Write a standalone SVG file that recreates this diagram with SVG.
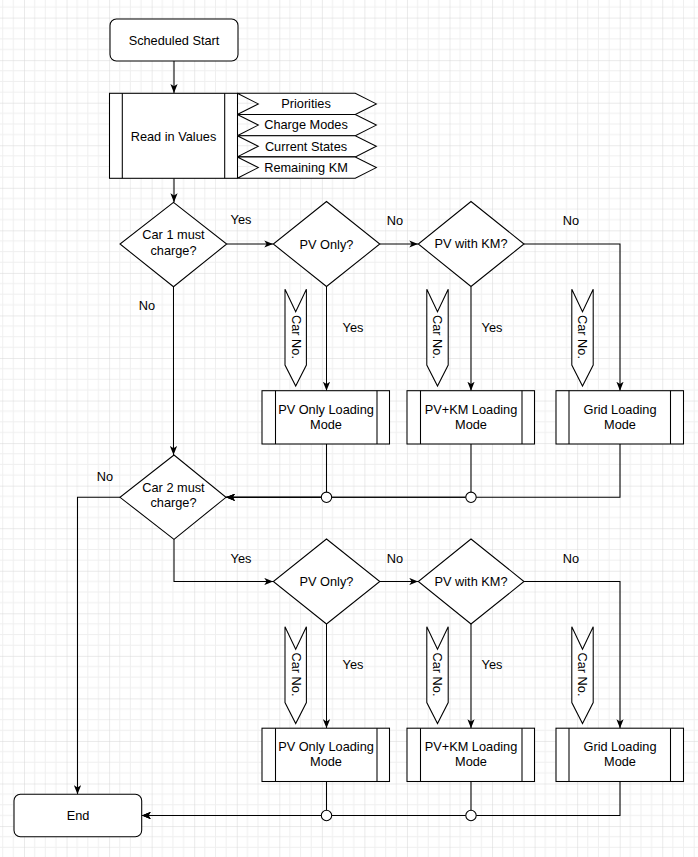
<svg xmlns="http://www.w3.org/2000/svg" width="698" height="857" viewBox="0 0 698 857">
<style>
.t{font-family:"Liberation Sans",Arial,Helvetica,sans-serif;font-size:12.76px;fill:#000;text-anchor:middle}
.s{fill:#fff;stroke:#000;stroke-width:1.06}
.l{fill:none;stroke:#000;stroke-width:1.06}
.a{fill:none;stroke:#000;stroke-width:1.06;marker-end:url(#arr)}
</style>
<defs>
<pattern id="grid" x="24" y="17.6" width="42.55" height="42.55" patternUnits="userSpaceOnUse">
<path d="M10.64 0V42.55M21.28 0V42.55M31.91 0V42.55M0 10.64H42.55M0 21.28H42.55M0 31.91H42.55" stroke="#efefef" stroke-width="1" fill="none"/>
<path d="M0 0V42.55M0 0H42.55" stroke="#d6d6d6" stroke-width="1" fill="none"/>
</pattern>
<marker id="arr" viewBox="0 0 10 8" refX="10" refY="4" markerWidth="9" markerHeight="7.2" markerUnits="userSpaceOnUse" orient="auto">
<path d="M0 0L10 4L0 8L2.5 4z" fill="#000"/>
</marker>
<polygon id="tag" points="0,0 118,0 139,10.6 118,21.2 0,21.2 21,10.6"/>
<polygon id="carno" points="0,0 10.7,22.4 21.4,0 21.4,75.7 10.7,96.7 0,75.7"/>
</defs>
<rect width="698" height="857" fill="#fff"/>
<rect width="698" height="857" fill="url(#grid)"/>

<g id="connectors">
<path class="a" d="M174 61V93"/>
<path class="a" d="M174 178.3V202.3"/>
<path class="a" d="M226.7 244H273.3"/>
<path class="a" d="M379.8 244H418.3"/>
<path class="a" d="M524 244H620V390.7"/>
<path class="a" d="M326.5 286.5V390.7"/>
<path class="a" d="M471 286.5V390.7"/>
<path class="a" d="M173.5 286.7V455"/>
<path class="a" d="M326.5 444V497.3H226"/>
<path class="a" d="M471 444V497.3H226"/>
<path class="a" d="M620 444V497.3H226"/>
<path class="a" d="M120 497.3H77.5V794.3"/>
<path class="a" d="M174 539.3V581.5H273.3"/>
<path class="a" d="M379.8 581.5H418.3"/>
<path class="a" d="M524 581.5H620V728.2"/>
<path class="a" d="M326.5 624V728.2"/>
<path class="a" d="M471 624V728.2"/>
<path class="a" d="M326.5 781.5V815.5H141.7"/>
<path class="a" d="M471 781.5V815.5H141.7"/>
<path class="a" d="M620 781.5V815.5H141.7"/>
<circle class="s" cx="326.5" cy="497.3" r="5.2"/>
<circle class="s" cx="471" cy="497.3" r="5.2"/>
<circle class="s" cx="326.5" cy="815.5" r="5.2"/>
<circle class="s" cx="471" cy="815.5" r="5.2"/>
<text class="t" x="241" y="223.5">Yes</text>
<text class="t" x="395" y="224.5">No</text>
<text class="t" x="571" y="224.5">No</text>
<text class="t" x="147" y="309.5">No</text>
<text class="t" x="353" y="331.5">Yes</text>
<text class="t" x="492" y="331.5">Yes</text>
<text class="t" x="105" y="480.5">No</text>
<text class="t" x="241" y="562.5">Yes</text>
<text class="t" x="395" y="562.5">No</text>
<text class="t" x="571" y="562.5">No</text>
<text class="t" x="353" y="668.5">Yes</text>
<text class="t" x="492" y="668.5">Yes</text>
</g>

<g id="start">
<rect class="s" x="110" y="19" width="128" height="42" rx="6.4"/>
<text class="t" x="174" y="44.5">Scheduled Start</text>
</g>

<g id="read">
<rect class="s" x="109.5" y="93.3" width="128" height="85"/>
<path class="l" d="M122.3 93.3V178.3M224.7 93.3V178.3"/>
<text class="t" x="173.5" y="140.5">Read in Values</text>
</g>

<g id="tag-priorities">
<use href="#tag" class="s" x="237.3" y="93.3"/>
<text class="t" x="306" y="107.8">Priorities</text>
</g>
<g id="tag-chargemodes">
<use href="#tag" class="s" x="237.3" y="114.5"/>
<text class="t" x="306" y="128.8">Charge Modes</text>
</g>
<g id="tag-currentstates">
<use href="#tag" class="s" x="237.3" y="135.7"/>
<text class="t" x="306" y="150.8">Current States</text>
</g>
<g id="tag-remainingkm">
<use href="#tag" class="s" x="237.3" y="157"/>
<text class="t" x="306" y="171.5">Remaining KM</text>
</g>

<g id="car1">
<polygon class="s" points="173.5,202.3 226.7,244 173.5,286.7 120,244"/>
<text class="t" x="173.5" y="238.8">Car 1 must</text>
<text class="t" x="173.5" y="254.5">charge?</text>
</g>

<g id="pvonly1">
<polygon class="s" points="326.5,201.5 379.8,244 326.5,286.5 273.3,244"/>
<text class="t" x="326.5" y="248.5">PV Only?</text>
</g>
<g id="pvkm1">
<polygon class="s" points="471,201.5 524,244 471,286.5 418.3,244"/>
<text class="t" x="471" y="248">PV with KM?</text>
</g>

<g id="carno1a"><use href="#carno" class="s" x="285" y="289.3"/><text class="t" transform="translate(291.5,337) rotate(90)">Car No.</text></g>
<g id="carno1b"><use href="#carno" class="s" x="426.8" y="289.3"/><text class="t" transform="translate(433.3,337) rotate(90)">Car No.</text></g>
<g id="carno1c"><use href="#carno" class="s" x="571.8" y="289.3"/><text class="t" transform="translate(578.3,337) rotate(90)">Car No.</text></g>

<g id="pvonlymode1">
<rect class="s" x="262" y="390.7" width="127.5" height="53.3"/>
<path class="l" d="M275.5 390.7V444M377 390.7V444"/>
<text class="t" x="326" y="413.5">PV Only Loading</text>
<text class="t" x="326" y="428.8">Mode</text>
</g>
<g id="pvkmmode1">
<rect class="s" x="407" y="390.7" width="127.5" height="53.3"/>
<path class="l" d="M420.5 390.7V444M522 390.7V444"/>
<text class="t" x="471" y="413.5">PV+KM Loading</text>
<text class="t" x="471" y="428.8">Mode</text>
</g>
<g id="gridmode1">
<rect class="s" x="556" y="390.7" width="127.5" height="53.3"/>
<path class="l" d="M569 390.7V444M670.5 390.7V444"/>
<text class="t" x="620" y="413.5">Grid Loading</text>
<text class="t" x="620" y="428.8">Mode</text>
</g>

<g id="car2">
<polygon class="s" points="174,455 226,497.3 174,539.3 120,497.3"/>
<text class="t" x="173.5" y="491.5">Car 2 must</text>
<text class="t" x="173.5" y="507.2">charge?</text>
</g>

<g id="pvonly2">
<polygon class="s" points="326.5,539 379.8,581.5 326.5,624 273.3,581.5"/>
<text class="t" x="326.5" y="586">PV Only?</text>
</g>
<g id="pvkm2">
<polygon class="s" points="471,539 524,581.5 471,624 418.3,581.5"/>
<text class="t" x="471" y="585.5">PV with KM?</text>
</g>

<g id="carno2a"><use href="#carno" class="s" x="285" y="626.8"/><text class="t" transform="translate(291.5,674.5) rotate(90)">Car No.</text></g>
<g id="carno2b"><use href="#carno" class="s" x="426.8" y="626.8"/><text class="t" transform="translate(433.3,674.5) rotate(90)">Car No.</text></g>
<g id="carno2c"><use href="#carno" class="s" x="571.8" y="626.8"/><text class="t" transform="translate(578.3,674.5) rotate(90)">Car No.</text></g>

<g id="pvonlymode2">
<rect class="s" x="262" y="728.2" width="127.5" height="53.3"/>
<path class="l" d="M275.5 728.2V781.5M377 728.2V781.5"/>
<text class="t" x="326" y="751">PV Only Loading</text>
<text class="t" x="326" y="766.3">Mode</text>
</g>
<g id="pvkmmode2">
<rect class="s" x="407" y="728.2" width="127.5" height="53.3"/>
<path class="l" d="M420.5 728.2V781.5M522 728.2V781.5"/>
<text class="t" x="471" y="751">PV+KM Loading</text>
<text class="t" x="471" y="766.3">Mode</text>
</g>
<g id="gridmode2">
<rect class="s" x="556" y="728.2" width="127.5" height="53.3"/>
<path class="l" d="M569 728.2V781.5M670.5 728.2V781.5"/>
<text class="t" x="620" y="751">Grid Loading</text>
<text class="t" x="620" y="766.3">Mode</text>
</g>

<g id="end">
<rect class="s" x="14" y="794.3" width="127.7" height="42.4" rx="6.4"/>
<text class="t" x="78" y="820">End</text>
</g>
</svg>
